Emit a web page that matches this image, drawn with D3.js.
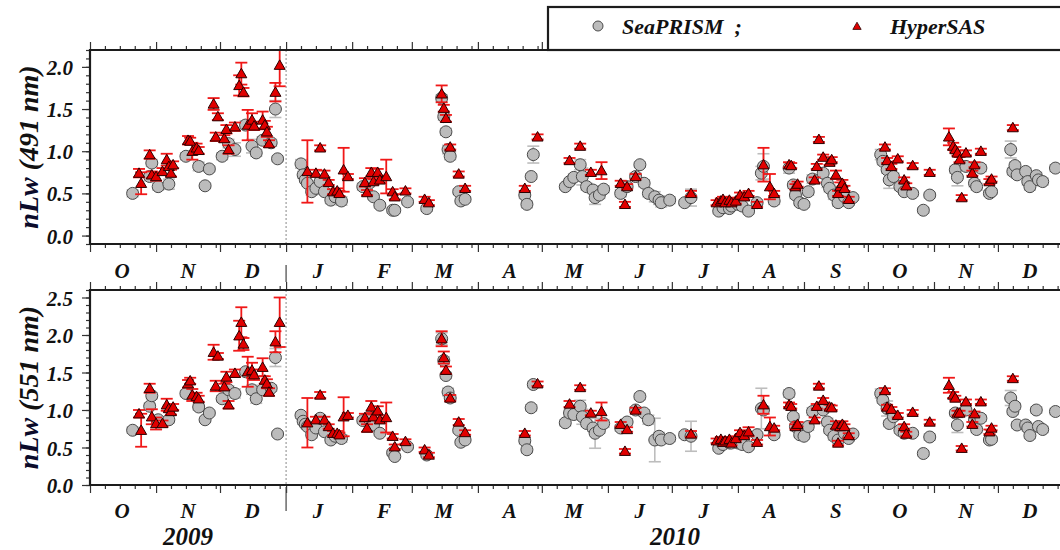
<!DOCTYPE html>
<html>
<head>
<meta charset="utf-8">
<script src="https://cdn.jsdelivr.net/npm/d3@7"></script>
<style>
  html, body { margin: 0; padding: 0; background: #fff; }
  svg text { font-family: "Liberation Serif", "Times New Roman", serif; font-weight: bold; font-style: italic; fill: #111; }
</style>
</head>
<body>
<svg id="chart" width="1060" height="550"></svg>
<script>
// ---- SeaPRISM (AERONET-OC) normalized water-leaving radiance ----
const spDates = [
  "2009-10-21","2009-10-29","2009-10-30","2009-11-02","2009-11-07","2009-11-15","2009-11-21","2009-11-24","2009-11-26",
  "2009-12-02","2009-12-05","2009-12-08","2009-12-13","2009-12-16","2009-12-18","2009-12-21","2009-12-25","2009-12-27","2009-12-28",
  "2010-01-08","2010-01-09","2010-01-10","2010-01-11","2010-01-13","2010-01-15","2010-01-17","2010-01-19","2010-01-22","2010-01-24","2010-01-27",
  "2010-02-06","2010-02-09","2010-02-11","2010-02-14","2010-02-20","2010-02-21","2010-02-27",
  "2010-03-08","2010-03-15","2010-03-16","2010-03-17","2010-03-18","2010-03-19","2010-03-23","2010-03-24","2010-03-26",
  "2010-04-23","2010-04-24","2010-04-26","2010-04-27",
  "2010-05-12","2010-05-14","2010-05-16","2010-05-19","2010-05-20","2010-05-22","2010-05-25","2010-05-26","2010-05-28","2010-05-30",
  "2010-06-07","2010-06-10","2010-06-14","2010-06-16","2010-06-18","2010-06-20","2010-06-23","2010-06-25","2010-06-26","2010-06-30",
  "2010-07-07","2010-07-10","2010-07-23","2010-07-25","2010-07-28","2010-07-29",
  "2010-08-01","2010-08-03","2010-08-06","2010-08-10","2010-08-12","2010-08-13","2010-08-18","2010-08-25","2010-08-27","2010-08-28","2010-08-30",
  "2010-09-01","2010-09-03","2010-09-05","2010-09-10","2010-09-12","2010-09-13","2010-09-15","2010-09-17","2010-09-20","2010-09-22","2010-09-24",
  "2010-10-07","2010-10-08","2010-10-10","2010-10-11","2010-10-13","2010-10-16","2010-10-18","2010-10-22","2010-10-27","2010-10-30",
  "2010-11-11","2010-11-12","2010-11-16","2010-11-20","2010-11-21","2010-11-23","2010-11-27","2010-11-28",
  "2010-12-07","2010-12-08","2010-12-09","2010-12-10","2010-12-14","2010-12-15","2010-12-16","2010-12-19","2010-12-20","2010-12-22","2010-12-28"
];
const spNlw491 = [
  0.50,0.70,0.86,0.58,0.61,0.94,0.82,0.59,0.79,
  0.94,1.09,1.02,1.31,1.06,0.98,1.13,1.10,1.50,0.91,
  0.85,0.72,0.66,0.62,0.52,0.56,0.64,0.52,0.42,0.46,0.41,
  0.58,0.62,0.46,0.36,0.30,0.30,0.40,
  0.32,1.63,1.41,1.23,1.02,0.94,0.52,0.41,0.43,
  0.48,0.37,0.70,0.96,
  0.58,0.64,0.69,0.84,0.70,0.58,0.54,0.45,0.48,0.55,
  0.50,0.58,0.70,0.84,0.62,0.50,0.46,0.42,0.39,0.42,
  0.39,0.45,0.29,0.33,0.32,0.35,
  0.37,0.35,0.29,0.39,0.74,0.82,0.41,0.80,0.60,0.48,0.39,
  0.37,0.52,0.67,0.74,0.62,0.56,0.48,0.39,0.46,0.39,0.45,
  0.96,0.88,0.78,0.66,0.70,0.58,0.52,0.50,0.30,0.48,
  0.78,0.69,0.82,0.62,0.58,0.80,0.50,0.52,
  1.02,0.76,0.83,0.72,0.76,0.64,0.58,0.71,0.66,0.64,0.80
];
const spErr491 = [
  0.04,0.05,0.04,0.04,0.06,0.04,0.05,0.03,0.03,
  0.04,0.05,0.08,0.05,0.08,0.04,0.04,0.04,0.10,0.03,
  0.05,0.04,0.03,0.03,0.04,0.03,0.04,0.03,0.04,0.03,0.05,
  0.04,0.04,0.03,0.03,0.03,0.03,0.03,
  0.03,0.04,0.04,0.04,0.05,0.04,0.03,0.03,0.03,
  0.04,0.04,0.03,0.10,
  0.03,0.03,0.04,0.06,0.10,0.04,0.04,0.08,0.04,0.04,
  0.04,0.04,0.04,0.03,0.04,0.04,0.06,0.05,0.05,0.04,
  0.03,0.10,0.03,0.03,0.03,0.03,
  0.03,0.03,0.03,0.03,0.08,0.15,0.04,0.06,0.04,0.04,0.03,
  0.03,0.04,0.05,0.04,0.05,0.04,0.05,0.04,0.03,0.03,0.03,
  0.06,0.04,0.04,0.10,0.04,0.04,0.03,0.03,0.03,0.03,
  0.04,0.10,0.04,0.04,0.04,0.04,0.03,0.03,
  0.10,0.04,0.04,0.04,0.04,0.04,0.04,0.04,0.04,0.04,0.04
];
const spNlw551 = [
  0.73,1.05,1.19,0.87,0.87,1.22,1.04,0.87,0.96,
  1.15,1.27,1.22,1.51,1.27,1.15,1.27,1.29,1.70,0.68,
  0.93,0.85,0.81,0.78,0.67,0.76,0.89,0.71,0.60,0.65,0.62,
  0.86,0.88,0.80,0.69,0.43,0.38,0.51,
  0.40,1.95,1.66,1.46,1.24,1.16,0.73,0.57,0.60,
  0.59,0.47,1.03,1.34,
  0.83,0.96,0.94,1.05,0.91,0.82,0.76,0.69,0.73,0.82,
  0.76,0.84,1.00,1.18,0.96,0.87,0.60,0.65,0.60,0.62,
  0.67,0.65,0.49,0.54,0.56,0.56,
  0.56,0.54,0.51,0.67,1.02,1.00,0.67,1.22,0.91,0.78,0.67,
  0.65,0.78,0.98,1.00,0.84,0.73,0.65,0.60,0.69,0.62,0.68,
  1.22,1.13,1.02,0.82,0.91,0.73,0.69,0.69,0.42,0.64,
  0.96,0.80,1.00,0.87,0.74,0.89,0.60,0.61,
  1.16,0.98,1.05,0.80,0.80,0.76,0.66,1.00,0.78,0.74,0.98
];
const spErr551 = [
  0.04,0.04,0.04,0.04,0.04,0.04,0.04,0.03,0.03,
  0.04,0.05,0.06,0.04,0.06,0.06,0.04,0.04,0.12,0.03,
  0.04,0.04,0.03,0.03,0.04,0.03,0.04,0.03,0.04,0.03,0.05,
  0.04,0.04,0.03,0.03,0.03,0.03,0.03,
  0.03,0.08,0.05,0.04,0.05,0.04,0.03,0.03,0.03,
  0.04,0.04,0.04,0.04,
  0.04,0.04,0.04,0.08,0.10,0.04,0.04,0.20,0.04,0.05,
  0.04,0.04,0.04,0.04,0.04,0.06,0.29,0.05,0.05,0.04,
  0.04,0.20,0.03,0.03,0.03,0.03,
  0.03,0.03,0.03,0.03,0.27,0.05,0.04,0.05,0.04,0.04,0.03,
  0.03,0.05,0.05,0.04,0.05,0.04,0.05,0.04,0.03,0.03,0.03,
  0.06,0.04,0.10,0.04,0.04,0.04,0.03,0.03,0.03,0.04,
  0.04,0.10,0.04,0.04,0.04,0.04,0.03,0.03,
  0.10,0.04,0.04,0.04,0.04,0.04,0.04,0.04,0.04,0.04,0.04
];

// ---- HyperSAS (above-water radiometer) normalized water-leaving radiance ----
const hsDates = [
  "2009-10-24","2009-10-25","2009-10-29","2009-10-30","2009-11-01","2009-11-04","2009-11-06","2009-11-07","2009-11-08","2009-11-09",
  "2009-11-16","2009-11-17","2009-11-18","2009-11-20","2009-11-21","2009-11-28","2009-11-29","2009-11-30",
  "2009-12-03","2009-12-04","2009-12-05","2009-12-08","2009-12-10","2009-12-11","2009-12-12","2009-12-14","2009-12-16","2009-12-17",
  "2009-12-21","2009-12-22","2009-12-23","2009-12-24","2009-12-27","2009-12-29",
  "2010-01-11","2010-01-15","2010-01-17","2010-01-19","2010-01-21","2010-01-23","2010-01-25","2010-01-26","2010-01-28","2010-01-30",
  "2010-02-07","2010-02-08","2010-02-10","2010-02-11","2010-02-13","2010-02-14","2010-02-17","2010-02-20","2010-02-21","2010-02-26",
  "2010-03-07","2010-03-09","2010-03-15","2010-03-16","2010-03-17","2010-03-19","2010-03-23","2010-03-26",
  "2010-04-23","2010-04-29",
  "2010-05-14","2010-05-19","2010-05-24","2010-05-29",
  "2010-06-07","2010-06-09","2010-06-10","2010-06-14",
  "2010-07-10","2010-07-22","2010-07-24","2010-07-25","2010-07-26","2010-07-28","2010-07-29","2010-07-31",
  "2010-08-02","2010-08-04","2010-08-06","2010-08-10","2010-08-13","2010-08-16","2010-08-18","2010-08-25","2010-08-26","2010-08-28","2010-08-29",
  "2010-09-06","2010-09-07","2010-09-08","2010-09-10","2010-09-13","2010-09-14","2010-09-16","2010-09-17","2010-09-18","2010-09-19","2010-09-20","2010-09-22",
  "2010-10-09","2010-10-10","2010-10-12","2010-10-15","2010-10-18","2010-10-19","2010-10-22","2010-10-30",
  "2010-11-08","2010-11-10","2010-11-11","2010-11-12","2010-11-13","2010-11-14","2010-11-16","2010-11-19","2010-11-20","2010-11-23","2010-11-27","2010-11-28",
  "2010-12-08"
];
const hsNlw491 = [
  0.74,0.62,0.96,0.72,0.70,0.76,0.90,0.82,0.74,0.84,
  1.13,1.12,1.00,1.04,1.01,1.56,1.17,1.41,
  1.15,1.26,1.02,1.29,1.78,1.92,1.70,1.31,1.37,1.30,
  1.37,1.31,1.23,1.09,1.70,2.02,
  0.76,0.74,1.04,0.73,0.63,0.52,0.53,0.50,0.78,0.70,
  0.63,0.51,0.75,0.64,0.75,0.66,0.70,0.52,0.46,0.53,
  0.43,0.39,1.68,1.51,1.39,1.05,0.73,0.56,
  0.56,1.17,
  0.89,1.06,0.75,0.77,
  0.62,0.37,0.58,0.70,
  0.50,0.39,0.41,0.43,0.39,0.42,0.39,0.41,
  0.48,0.46,0.50,0.37,0.84,0.58,0.50,0.84,0.83,0.58,0.61,
  0.66,0.82,1.14,0.93,0.87,0.90,0.72,0.50,0.58,0.62,0.56,0.43,
  1.05,0.89,0.82,0.91,0.66,0.59,0.83,0.75,
  1.17,1.06,1.02,0.98,0.90,0.45,0.98,0.74,0.84,1.00,0.64,0.67,
  1.28
];
const hsErr491 = [
  0.05,0.13,0.05,0.04,0.05,0.04,0.07,0.04,0.04,0.04,
  0.05,0.04,0.10,0.05,0.04,0.07,0.05,0.04,
  0.04,0.05,0.05,0.05,0.12,0.13,0.05,0.18,0.08,0.05,
  0.10,0.05,0.06,0.04,0.11,0.25,
  0.37,0.04,0.03,0.04,0.03,0.03,0.03,0.03,0.26,0.03,
  0.05,0.03,0.05,0.03,0.04,0.03,0.20,0.03,0.03,0.03,
  0.03,0.03,0.10,0.04,0.04,0.03,0.03,0.03,
  0.03,0.03,
  0.03,0.03,0.03,0.10,
  0.03,0.03,0.03,0.03,
  0.03,0.03,0.03,0.03,0.03,0.03,0.03,0.03,
  0.03,0.03,0.03,0.03,0.20,0.15,0.03,0.03,0.03,0.03,0.03,
  0.03,0.03,0.03,0.03,0.03,0.03,0.05,0.03,0.05,0.04,0.03,0.03,
  0.03,0.03,0.03,0.03,0.03,0.03,0.03,0.03,
  0.10,0.04,0.03,0.03,0.03,0.03,0.03,0.03,0.03,0.03,0.03,0.03,
  0.03
];
const hsNlw551 = [
  0.95,0.73,1.29,0.91,0.82,0.82,1.07,1.02,0.98,1.04,
  1.35,1.39,1.20,1.18,1.15,1.77,1.32,1.72,
  1.31,1.44,1.07,1.49,1.99,2.17,1.88,1.51,1.53,1.47,
  1.57,1.40,1.35,1.24,1.91,2.17,
  0.83,0.87,1.20,0.87,0.78,0.69,0.69,0.67,0.91,0.93,
  0.90,0.76,1.04,0.91,0.99,0.87,0.90,0.65,0.51,0.58,
  0.47,0.40,1.95,1.70,1.53,1.16,0.84,0.70,
  0.69,1.35,
  1.08,1.30,0.96,0.98,
  0.81,0.45,0.74,1.00,
  0.68,0.59,0.61,0.57,0.59,0.61,0.56,0.62,
  0.70,0.66,0.71,0.57,1.07,0.78,0.76,1.07,1.05,0.78,0.81,
  0.87,1.05,1.32,1.13,1.04,1.03,0.80,0.56,0.78,0.81,0.78,0.66,
  1.26,1.04,1.01,0.93,0.78,0.68,0.97,0.84,
  1.33,1.20,1.16,0.96,0.96,0.49,1.11,0.81,0.95,1.11,0.71,0.76,
  1.42
];
const hsErr551 = [
  0.05,0.22,0.06,0.10,0.08,0.04,0.08,0.04,0.04,0.04,
  0.05,0.04,0.08,0.05,0.04,0.10,0.07,0.04,
  0.04,0.07,0.05,0.05,0.20,0.20,0.08,0.20,0.10,0.07,
  0.12,0.05,0.06,0.05,0.14,0.33,
  0.33,0.04,0.04,0.04,0.03,0.03,0.03,0.03,0.26,0.03,
  0.05,0.05,0.08,0.03,0.06,0.03,0.20,0.03,0.03,0.03,
  0.03,0.03,0.10,0.08,0.05,0.04,0.04,0.03,
  0.03,0.03,
  0.04,0.03,0.03,0.12,
  0.03,0.03,0.03,0.03,
  0.04,0.03,0.03,0.03,0.03,0.03,0.03,0.03,
  0.03,0.03,0.06,0.03,0.12,0.12,0.03,0.03,0.03,0.03,0.03,
  0.03,0.03,0.03,0.03,0.03,0.03,0.05,0.03,0.05,0.04,0.03,0.03,
  0.03,0.03,0.03,0.03,0.03,0.03,0.03,0.03,
  0.10,0.04,0.03,0.03,0.03,0.03,0.03,0.03,0.03,0.03,0.03,0.03,
  0.03
];

// ---- axis labels ----
const monthLabels = ["O","N","D","J","F","M","A","M","J","J","A","S","O","N","D"];
const yearLabels = ["2009","2010"];
const yTicks491 = [0.0, 0.5, 1.0, 1.5, 2.0];
const yTicks551 = [0.0, 0.5, 1.0, 1.5, 2.0, 2.5];
const panelTitles = ["nLw (491 nm)", "nLw (551 nm)"];
const legendNames = ["SeaPRISM  ;", "HyperSAS"];

// ---- drawing ----
const svg = d3.select("#chart");
svg.append("rect").attr("width", 1060).attr("height", 550).attr("fill", "#fff");

const parse = d3.utcParse("%Y-%m-%d");
const start = new Date(Date.UTC(2009, 9, 1));
const end = new Date(Date.UTC(2011, 0, 1));
const yearBreak = new Date(Date.UTC(2010, 0, 1));
const x = d3.scaleUtc().domain([start, end]).range([90, 1064]);

const monthStarts = d3.utcMonth.range(start, end);
const weekTicks = [];
monthStarts.forEach(m => {
  [8, 15, 22, 29].forEach(day => {
    const t = new Date(Date.UTC(m.getUTCFullYear(), m.getUTCMonth(), day));
    if (t.getUTCMonth() === m.getUTCMonth()) weekTicks.push(t);
  });
});
const monthMids = monthStarts.map(m => new Date(Date.UTC(m.getUTCFullYear(), m.getUTCMonth(), 16)));

const RED = "#f01818";
const GRAY_ERR = "#bdbdbd";

const panels = [
  { top: 50, bottom: 244, domain: [-0.1, 2.2], ticks: yTicks491, title: panelTitles[0],
    sp: spNlw491, spE: spErr491, hs: hsNlw491, hsE: hsErr491, monthY: 278, sepY: [265, 282] },
  { top: 290, bottom: 485, domain: [0, 2.6], ticks: yTicks551, title: panelTitles[1],
    sp: spNlw551, spE: spErr551, hs: hsNlw551, hsE: hsErr551, monthY: 518, sepY: [487, 511] }
];

panels.forEach((p, i) => {
  const y = d3.scaleLinear().domain(p.domain).range([p.bottom, p.top]);
  const g = svg.append("g");

  const clipId = "clip" + i;
  svg.append("clipPath").attr("id", clipId)
    .append("rect").attr("x", 90).attr("y", p.top).attr("width", 974).attr("height", p.bottom - p.top);

  // x axes, bottom and top (major month ticks and weekly minor ticks)
  const styleAxis = sel => {
    sel.select(".domain").remove();
    sel.selectAll("line").attr("stroke", "#333").attr("stroke-width", 1.2);
    sel.selectAll("text").remove();
  };
  g.append("g").attr("transform", `translate(0,${p.bottom})`)
    .call(d3.axisBottom(x).tickValues(monthStarts).tickSize(8).tickFormat("")).call(styleAxis);
  g.append("g").attr("transform", `translate(0,${p.bottom})`)
    .call(d3.axisBottom(x).tickValues(weekTicks).tickSize(4).tickFormat("")).call(styleAxis);
  g.append("g").attr("transform", `translate(0,${p.top})`)
    .call(d3.axisTop(x).tickValues(monthStarts).tickSize(8).tickFormat("")).call(styleAxis);
  g.append("g").attr("transform", `translate(0,${p.top})`)
    .call(d3.axisTop(x).tickValues(weekTicks).tickSize(4).tickFormat("")).call(styleAxis);

  // y axis with 0.1 minor ticks
  const minor = d3.range(Math.ceil(p.domain[0] * 10), Math.floor(p.domain[1] * 10) + 1).map(v => v / 10);
  g.append("g").attr("transform", "translate(90,0)")
    .call(d3.axisLeft(y).tickValues(minor).tickSize(4).tickFormat("")).call(styleAxis);
  const yAx = g.append("g").attr("transform", "translate(90,0)")
    .call(d3.axisLeft(y).tickValues(p.ticks).tickSize(8).tickPadding(9).tickFormat(d3.format(".1f")));
  yAx.select(".domain").remove();
  yAx.selectAll("line").attr("stroke", "#333").attr("stroke-width", 1.2);
  yAx.selectAll("text").attr("font-size", 21).attr("fill", "#111")
    .attr("font-family", "Liberation Serif").attr("font-weight", "bold").attr("font-style", "italic")
    .attr("dy", "0.36em");

  // year break inside the panel
  g.append("line").attr("x1", x(yearBreak)).attr("x2", x(yearBreak))
    .attr("y1", p.top).attr("y2", p.bottom)
    .attr("stroke", "#888").attr("stroke-width", 1).attr("stroke-dasharray", "2,2");

  // data layer
  const data = g.append("g").attr("clip-path", `url(#${clipId})`);
  const cap = 6;

  const spRows = spDates.map((d, k) => ({ t: parse(d), v: p.sp[k], e: p.spE[k] }));
  const hsRows = hsDates.map((d, k) => ({ t: parse(d), v: p.hs[k], e: p.hsE[k] }));

  const errBars = (rows, color, w) => {
    const eg = data.append("g").attr("stroke", color).attr("stroke-width", w).attr("fill", "none");
    rows.forEach(r => {
      const cx = x(r.t), y1 = y(r.v - r.e), y2 = y(r.v + r.e);
      eg.append("line").attr("x1", cx).attr("x2", cx).attr("y1", y1).attr("y2", y2);
      eg.append("line").attr("x1", cx - cap).attr("x2", cx + cap).attr("y1", y1).attr("y2", y1);
      eg.append("line").attr("x1", cx - cap).attr("x2", cx + cap).attr("y1", y2).attr("y2", y2);
    });
  };

  errBars(spRows, GRAY_ERR, 1.6);
  data.append("g").selectAll("circle").data(spRows).join("circle")
    .attr("cx", r => x(r.t)).attr("cy", r => y(r.v)).attr("r", 6)
    .attr("fill", "#bcbcbc").attr("stroke", "#4a4a4a").attr("stroke-width", 1);

  errBars(hsRows, RED, 1.8);
  const tri = d3.symbol(d3.symbolTriangle, 52);
  data.append("g").selectAll("path").data(hsRows).join("path")
    .attr("d", tri).attr("transform", r => `translate(${x(r.t)},${y(r.v) + 1})`)
    .attr("fill", "#e10000").attr("stroke", "#2a0000").attr("stroke-width", 1);

  // frame (right side runs past the view)
  g.append("path")
    .attr("d", `M1064,${p.top}H90V${p.bottom}H1064`)
    .attr("fill", "none").attr("stroke", "#1c1c1c").attr("stroke-width", 2.2);

  // month letters
  g.append("g").selectAll("text").data(monthMids).join("text")
    .attr("x", d => x(d)).attr("y", p.monthY).attr("text-anchor", "middle")
    .attr("font-size", 21).text((d, k) => monthLabels[k]);

  // separator between years below the axis
  g.append("line").attr("x1", x(yearBreak)).attr("x2", x(yearBreak))
    .attr("y1", p.sepY[0]).attr("y2", p.sepY[1]).attr("stroke", "#444").attr("stroke-width", 1.2);

  // y title
  const cy = (p.top + p.bottom) / 2;
  const title = g.append("text").attr("transform", `translate(38,${cy}) rotate(-90)`)
    .attr("text-anchor", "middle").attr("font-size", 28);
  const parts = p.title.split(" ");
  title.append("tspan").attr("fill", "#0b0b2a").text(parts[0]);
  title.append("tspan").text(" " + parts.slice(1).join(" "));
});

// year labels
const yearSpans = [[start, yearBreak], [yearBreak, end]];
svg.append("g").selectAll("text").data(yearSpans).join("text")
  .attr("x", d => (x(d[0]) + x(d[1])) / 2).attr("y", 545)
  .attr("text-anchor", "middle").attr("font-size", 25).text((d, k) => yearLabels[k]);

// legend
const lg = svg.append("g");
lg.append("rect").attr("x", 548).attr("y", 7).attr("width", 530).attr("height", 43)
  .attr("fill", "#fff").attr("stroke", "#1c1c1c").attr("stroke-width", 2.2);
lg.append("circle").attr("cx", 598).attr("cy", 26).attr("r", 5)
  .attr("fill", "#bcbcbc").attr("stroke", "#4a4a4a").attr("stroke-width", 1);
lg.append("path").attr("d", d3.symbol(d3.symbolTriangle, 30)())
  .attr("transform", "translate(857,27)").attr("fill", "#e10000").attr("stroke", "#2a0000").attr("stroke-width", 0.8);
lg.append("text").attr("x", 622).attr("y", 34).attr("font-size", 22).attr("xml:space", "preserve").text(legendNames[0]);
lg.append("text").attr("x", 890).attr("y", 34).attr("font-size", 22).text(legendNames[1]);

// redraw the top border of the upper panel over the legend box edge
svg.append("line").attr("x1", 90).attr("x2", 1064).attr("y1", 50).attr("y2", 50)
  .attr("stroke", "#1c1c1c").attr("stroke-width", 2.2);
</script>
</body>
</html>
